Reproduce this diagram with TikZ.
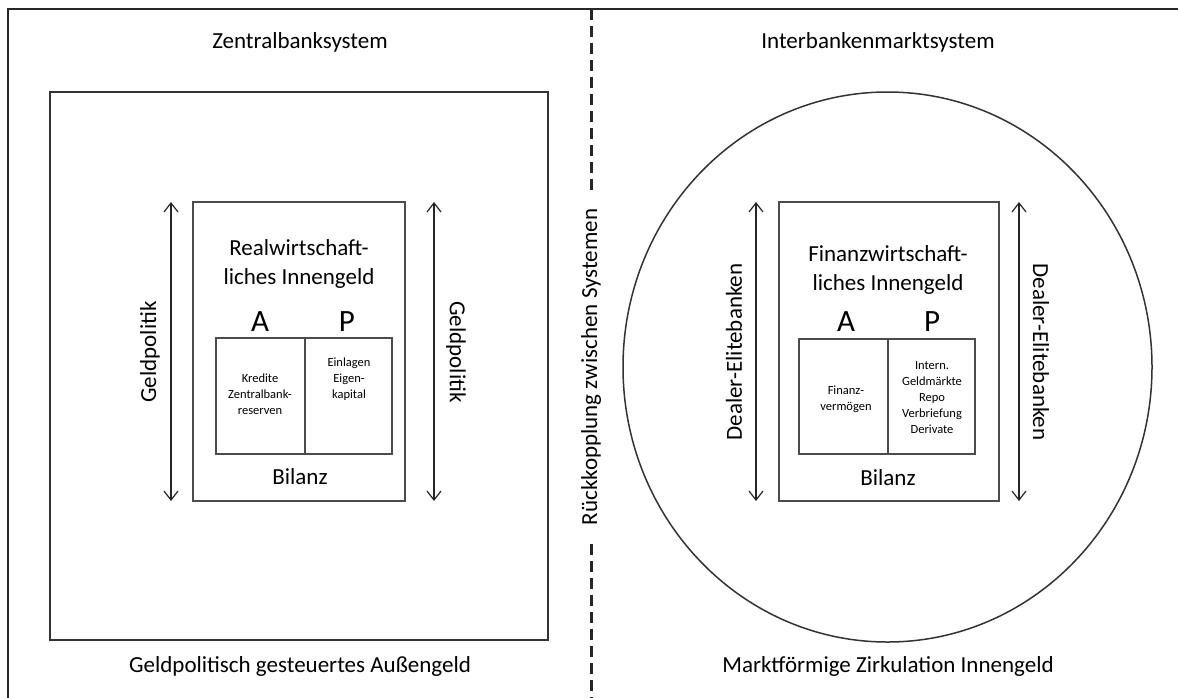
\documentclass[tikz,border=0pt]{standalone}
\usepackage{fontspec}
\setmainfont{Carlito}
\usetikzlibrary{arrows.meta}
\begin{document}
\begin{tikzpicture}[x=1pt,y=-1pt,
  frame/.style={draw=black!85,line width=2.6pt},
  sysbox/.style={draw=black!80,line width=1.5pt},
  inbox/.style={draw=black!70,line width=1.2pt},
  lbl/.style={font=\fontsize{23}{29.5}\selectfont,align=center,inner sep=0pt},
  aplbl/.style={font=\fontsize{31}{33}\selectfont,inner sep=0pt},
  small/.style={font=\fontsize{12.5}{16}\selectfont,align=center,inner sep=0pt},
  dbl/.style={draw=black!85,line width=1.2pt,
    {Straight Barb[length=9pt,width=14pt]}-{Straight Barb[length=9pt,width=14pt]}},
  sep/.style={draw=black!85,line width=3pt,dash pattern=on 11pt off 6pt}]
\useasboundingbox (0,0) rectangle (1178,697);
\fill[white] (0,0) rectangle (1178,697);

% outer frame (top and left edges)
\draw[frame] (8,699) -- (8,9) -- (1180,9);

% dashed separator between the two systems
\coordinate (sepTop) at (591,9);
\coordinate (sepA) at (591,190);
\coordinate (sepB) at (591,544);
\coordinate (sepBot) at (591,699);
\draw[sep] (sepTop) -- (sepA);
\draw[sep] (sepB) -- (sepBot);
\node[lbl,rotate=90] (rk) at (591,367) {Rückkopplung zwischen Systemen};

% ---------- left: Zentralbanksystem ----------
\node[lbl] (zbs) at (300,42) {Zentralbanksystem};
\draw[sysbox] (50,92) rectangle (548,640);
\node[lbl] (aussen) at (300,666) {Geldpolitisch gesteuertes Außengeld};

\draw[inbox] (193,202) rectangle (405,501);
\node[lbl] (rw) at (299,264) {Realwirtschaft-\\liches Innengeld};
\node[aplbl] (A1) at (260,322) {A};
\node[aplbl] (P1) at (347,322) {P};
\draw[inbox] (216,338) rectangle (392,454);
\draw[inbox] (305,338) -- (305,454);
\node[small] (kr) at (260,394) {Kredite\\Zentralbank-\\reserven};
\node[small] (ein) at (349,379) {Einlagen\\Eigen-\\kapital};
\node[lbl] (bil1) at (300,477) {Bilanz};

\coordinate (gl1) at (171,202);
\coordinate (gl2) at (171,501);
\draw[dbl] (gl1) -- (gl2);
\node[lbl,rotate=90] (gpL) at (150,352) {Geldpolitik};
\coordinate (gr1) at (434,202);
\coordinate (gr2) at (434,501);
\draw[dbl] (gr1) -- (gr2);
\node[lbl,rotate=-90] (gpR) at (456,352) {Geldpolitik};

% ---------- right: Interbankenmarktsystem ----------
\node[lbl] (ibs) at (878,42) {Interbankenmarktsystem};
\draw[sysbox] (887.5,367) ellipse [x radius=264.5,y radius=275];
\node[lbl] (markt) at (888,666) {Marktförmige Zirkulation Innengeld};

\draw[inbox] (779,202) rectangle (999,501);
\node[lbl] (fw) at (888,270) {Finanzwirtschaft-\\liches Innengeld};
\node[aplbl] (A2) at (846,322) {A};
\node[aplbl] (P2) at (932,322) {P};
\draw[inbox] (799,339) rectangle (975,454);
\draw[inbox] (888,339) -- (888,454);
\node[small] (fv) at (846,399) {Finanz-\\vermögen};
\node[small] (ig) at (932,398) {Intern.\\Geldmärkte\\Repo\\Verbriefung\\Derivate};
\node[lbl] (bil2) at (888,478) {Bilanz};

\coordinate (dl1) at (756,202);
\coordinate (dl2) at (756,501);
\draw[dbl] (dl1) -- (dl2);
\node[lbl,rotate=90] (deL) at (734,352) {Dealer-Elitebanken};
\coordinate (dr1) at (1019,202);
\coordinate (dr2) at (1019,501);
\draw[dbl] (dr1) -- (dr2);
\node[lbl,rotate=-90] (deR) at (1041,352) {Dealer-Elitebanken};
\end{tikzpicture}
\end{document}
